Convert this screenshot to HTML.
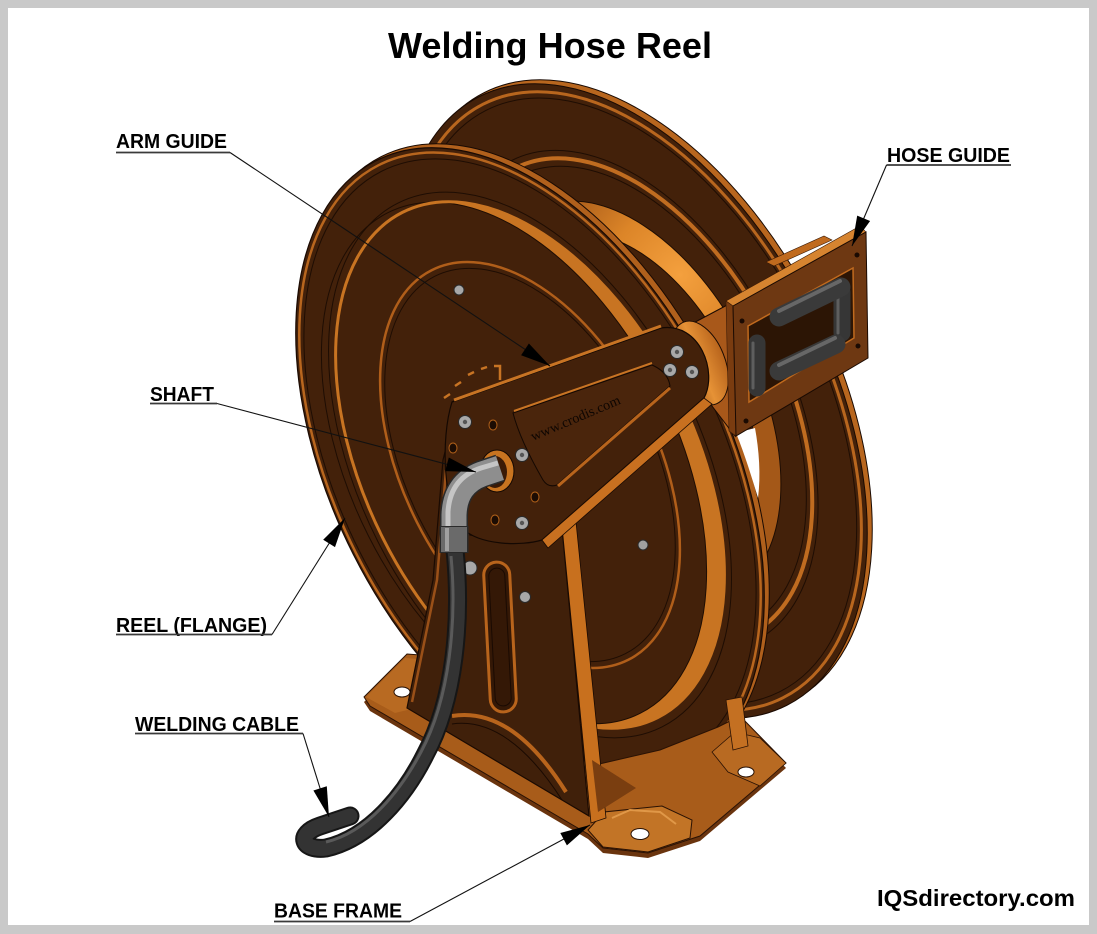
<!DOCTYPE html>
<html><head><meta charset="utf-8"><title>Welding Hose Reel</title>
<style>
html,body{margin:0;padding:0;background:#c9c9c9;}
svg{display:block;}
</style></head><body>
<svg xmlns="http://www.w3.org/2000/svg" width="1097" height="934" viewBox="0 0 1097 934">
<defs>
 <radialGradient id="lip" gradientUnits="userSpaceOnUse" cx="680" cy="275" r="140">
  <stop offset="0" stop-color="#f4a03e"/>
  <stop offset="0.5" stop-color="#dc8528"/>
  <stop offset="1" stop-color="#a45818"/>
 </radialGradient>
 <linearGradient id="collar" x1="0" y1="0" x2="1" y2="0">
  <stop offset="0" stop-color="#9a5016"/>
  <stop offset="0.5" stop-color="#e69236"/>
  <stop offset="1" stop-color="#b8641c"/>
 </linearGradient>
</defs>
<rect width="1097" height="934" fill="#c9c9c9"/>
<rect x="8" y="8" width="1081" height="917" fill="#ffffff"/>

<!-- ===== BACK FLANGE ===== -->
<g transform="translate(638 397) rotate(-26.8)"><ellipse rx="198" ry="341" fill="#b8661e" stroke="#1a0a02" stroke-width="1"/></g>
<g transform="translate(633 401) rotate(-26.8)">
 <ellipse rx="198" ry="341" fill="#43210a" stroke="#1a0a02" stroke-width="1"/>
 <ellipse rx="193" ry="332.5" fill="none" stroke="#b8661e" stroke-width="3"/>
 <ellipse rx="189" ry="325.7" fill="none" stroke="#1e0d03" stroke-width="1"/>
 <ellipse rx="156.4" ry="269.4" fill="none" stroke="#1e0d03" stroke-width="1"/>
 <ellipse rx="151.5" ry="260.9" fill="none" stroke="#c06c20" stroke-width="4"/>
 <ellipse rx="146.5" ry="252.3" fill="none" stroke="#1e0d03" stroke-width="1"/>
</g>
<!-- inner lip of back flange -->
<path fill-rule="evenodd" fill="url(#lip)" stroke="#1e0d03" stroke-width="1"
 d="M536.1 209.3 A124.7 214.8 -26.8 1 1 729.9 592.7 A124.7 214.8 -26.8 1 1 536.1 209.3 Z M551.5 239.7 A104.9 180.7 -26.8 1 1 714.5 562.3 A104.9 180.7 -26.8 1 1 551.5 239.7 Z"/>

<!-- ===== FRONT FLANGE ===== -->
<g transform="translate(535 461) rotate(-26.8)"><ellipse rx="198" ry="341" fill="#b0601c" stroke="#1a0a02" stroke-width="1"/></g>
<g transform="translate(530 465) rotate(-26.8)">
 <ellipse rx="198" ry="341" fill="#43210a" stroke="#1a0a02" stroke-width="1.2"/>
 <ellipse rx="195" ry="335.9" fill="none" stroke="#b8661e" stroke-width="2.5"/>
 <ellipse rx="191.1" ry="329.1" fill="none" stroke="#1e0d03" stroke-width="1"/>
 <ellipse rx="164.3" ry="283" fill="#c87422"/>
</g>
<g transform="translate(514 463) rotate(-26.8)"><ellipse rx="162.8" ry="280.3" fill="#43210a" stroke="#1e0d03" stroke-width="1"/></g>
<g transform="translate(530 465) rotate(-26.8)">
 <ellipse rx="170.3" ry="293.3" fill="none" stroke="#1e0d03" stroke-width="1"/>
 <ellipse rx="164.3" ry="283" fill="none" stroke="#c87422" stroke-width="3"/>
 <ellipse rx="126.7" ry="218.2" fill="none" stroke="#b05e1a" stroke-width="2.5"/>
 <ellipse rx="122.8" ry="211.4" fill="none" stroke="#1e0d03" stroke-width="1"/>
</g>
<!-- white see-through gap under hose guide -->
<path d="M736 433 L755 428 C759 450 761 475 758 498 C752 478 745 455 736 433 Z" fill="#ffffff"/>

<!-- REEL marks -->
<path d="M444 398 l6 -4 M455 386 l6 -4 M468 375 l6 -3 M481 369 l6 -2 M494 366 l6 0 l0 14" stroke="#c87424" stroke-width="2.5" fill="none"/>
<!-- flange nuts -->
<circle cx="459" cy="290" r="5" fill="#a8a8a8" stroke="#2a2a2a" stroke-width="1"/>
<circle cx="643" cy="545" r="5" fill="#a0a0a0" stroke="#2a2a2a" stroke-width="1"/>

<!-- ===== BASE ===== -->
<path d="M364 702 L407 659 L447 662 L447 705 L595 770 L660 755 L718 732 L740 721 L786 768 L700 841 L648 858 L603 853 L588 839 L370 711 Z" fill="#6a340e"/>
<path d="M364 697 L407 654 L447 657 L447 700 L595 765 L660 750 L718 727 L740 716 L786 763 L700 836 L648 853 L603 848 L588 834 L370 706 Z" fill="#a85c1a" stroke="#2a1204" stroke-width="1"/>
<path d="M366 697 L405 658 L430 660 L432 704 L395 713 Z" fill="#b86a22"/>
<ellipse cx="402" cy="692" rx="8" ry="5" fill="#ffffff" stroke="#2a1204" stroke-width="1"/>
<path d="M712 752 L735 732 L760 738 L786 763 L760 786 L728 772 Z" fill="#b86a22" stroke="#2a1204" stroke-width="0.8"/>
<ellipse cx="746" cy="772" rx="8" ry="5" fill="#ffffff" stroke="#2a1204" stroke-width="1"/>
<path d="M588 830 L604 812 L662 806 L692 820 L690 838 L648 852 L603 847 Z" fill="#c27426" stroke="#2a1204" stroke-width="1"/>
<path d="M612 818 L630 810 L660 812 L676 824" fill="none" stroke="#e09848" stroke-width="2"/>
<ellipse cx="640" cy="834" rx="9" ry="5.5" fill="#ffffff" stroke="#2a1204" stroke-width="1"/>
<!-- rear stand leg -->
<path d="M726 700 L742 697 L748 746 L733 750 Z" fill="#c47022" stroke="#2a1204" stroke-width="0.8"/>

<!-- ===== STAND ===== -->
<path d="M448 440 L443 460 L433 580 L407 708 L589 816 L562 528 L540 540 L470 535 Z" fill="#40200a" stroke="#1a0a02" stroke-width="1.2"/>
<path d="M562 526 L576 522 L606 818 L591 823 Z" fill="#c8701e" stroke="#1a0a02" stroke-width="0.8"/>
<path d="M592 760 L636 788 L598 812 Z" fill="#7a3e10"/>
<path d="M446 470 L437 580 L412 702" fill="none" stroke="#9a5018" stroke-width="2.5"/>
<rect x="487" y="562" width="26" height="150" rx="13" fill="#341806" stroke="#b8641c" stroke-width="3" transform="rotate(-3 500 637)"/>
<rect x="492" y="568" width="16" height="138" rx="8" fill="none" stroke="#1a0a02" stroke-width="1" transform="rotate(-3 500 637)"/>
<path d="M452 716 Q512 706 566 792" stroke="#b8641c" stroke-width="4" fill="none"/>
<path d="M452 724 Q508 716 562 800" stroke="#1a0a02" stroke-width="1" fill="none"/>
<circle cx="525" cy="597" r="5.5" fill="#a8a8a8" stroke="#2a2a2a" stroke-width="1"/>
<circle cx="470" cy="568" r="7" fill="#a8a8a8" stroke="#2a2a2a" stroke-width="1"/>

<!-- ===== CABLE ===== -->
<path d="M455 550 C462 620 455 700 425 755 C405 795 370 838 326 848 C302 851 296 834 320 826 L350 816" fill="none" stroke="#161616" stroke-width="19" stroke-linecap="round"/>
<path d="M455 550 C462 620 455 700 425 755 C405 795 370 838 326 848 C302 851 296 834 320 826 L350 816" fill="none" stroke="#333333" stroke-width="15" stroke-linecap="round"/>
<path d="M451 556 C457 620 450 698 421 752 C401 790 368 832 326 842" fill="none" stroke="#5a5a5a" stroke-width="3"/>

<!-- ===== ARM / HUB ===== -->
<path d="M766 262 L824 236 L832 240 L774 266 Z" fill="#c06a1e" stroke="#3a1a06" stroke-width="0.6"/>
<path d="M684 328 L731 303 L735 436 L712 406 Z" fill="#a8581a" stroke="#1a0a02" stroke-width="1"/>
<ellipse cx="700" cy="363" rx="25" ry="44" transform="rotate(-22 700 363)" fill="url(#collar)" stroke="#1a0a02" stroke-width="1"/>
<path d="M452 402 L661 328 C700 322 718 372 704 398 L542 540 C522 546 480 546 462 528 C444 508 440 440 452 402 Z" fill="#43210a" stroke="#140802" stroke-width="1.2"/>
<path d="M454 400 L661 326" stroke="#c87424" stroke-width="3"/>
<path d="M542 540 L704 398 L712 404 L548 548 Z" fill="#c87020" stroke="#1a0a02" stroke-width="0.8"/>
<path d="M513 413 L652 365 Q668 372 670 386 L557 485 Q548 488 543 480 Q520 440 513 413 Z" fill="#4a250c" stroke="#140802" stroke-width="1"/>
<path d="M514 411 L652 363" stroke="#c87424" stroke-width="2"/>
<path d="M670 388 L558 486" stroke="#b8641c" stroke-width="3"/>
<text x="533" y="441" transform="rotate(-23 533 441)" font-family="'Liberation Serif', serif" font-size="14" fill="#0e0602" textLength="96" lengthAdjust="spacingAndGlyphs">www.crodis.com</text>
<!-- hub holes -->
<ellipse cx="493" cy="425" rx="4" ry="5" fill="#1c0c03" stroke="#b0601a" stroke-width="1"/>
<ellipse cx="453" cy="448" rx="4" ry="5" fill="#1c0c03" stroke="#b0601a" stroke-width="1"/>
<ellipse cx="535" cy="497" rx="4" ry="5" fill="#1c0c03" stroke="#b0601a" stroke-width="1"/>
<ellipse cx="495" cy="520" rx="4" ry="5" fill="#1c0c03" stroke="#b0601a" stroke-width="1"/>
<!-- bolts -->
<g fill="#a9a9a9" stroke="#2a2a2a" stroke-width="1">
 <circle cx="465" cy="422" r="6.5"/><circle cx="522" cy="455" r="6.5"/><circle cx="522" cy="523" r="6.5"/>
 <circle cx="677" cy="352" r="6.5"/><circle cx="670" cy="370" r="6.5"/><circle cx="692" cy="372" r="6.5"/>
</g>
<g fill="#555555">
 <circle cx="465" cy="422" r="2.2"/><circle cx="522" cy="455" r="2.2"/><circle cx="522" cy="523" r="2.2"/>
 <circle cx="677" cy="352" r="2.2"/><circle cx="670" cy="370" r="2.2"/><circle cx="692" cy="372" r="2.2"/>
</g>
<!-- shaft bore -->
<ellipse cx="497" cy="471" rx="17" ry="21" fill="#c87420" stroke="#140802" stroke-width="1"/>
<ellipse cx="495" cy="472" rx="12" ry="16" fill="#3a1a06"/>

<!-- ===== HOSE GUIDE ===== -->
<path d="M726 301 L860 226 L866 232 L733 306 Z" fill="#d68430" stroke="#3a1a06" stroke-width="0.6"/>
<path d="M726 301 L733 306 L736 436 L729 431 Z" fill="#7a3c10" stroke="#3a1a06" stroke-width="0.6"/>
<path d="M733 306 L866 232 L868 358 L736 436 Z" fill="#6e3812" stroke="#1a0a02" stroke-width="1"/>
<path d="M748 326 L853 268 L854 338 L749 402 Z" fill="#2c1505" stroke="#c06a1e" stroke-width="1.5"/>
<g stroke-linecap="round" fill="none">
 <line x1="757" y1="343" x2="757" y2="388" stroke="#363636" stroke-width="17"/>
 <line x1="753" y1="343" x2="753" y2="388" stroke="#5e5e5e" stroke-width="3"/>
 <line x1="842" y1="292" x2="842" y2="333" stroke="#363636" stroke-width="17"/>
 <line x1="838" y1="292" x2="838" y2="333" stroke="#5e5e5e" stroke-width="3"/>
 <line x1="779" y1="317" x2="841" y2="287" stroke="#3a3a3a" stroke-width="19"/>
 <line x1="779" y1="311" x2="840" y2="281" stroke="#676767" stroke-width="4"/>
 <line x1="779" y1="371" x2="836" y2="344" stroke="#3a3a3a" stroke-width="19"/>
 <line x1="779" y1="365" x2="835" y2="338" stroke="#676767" stroke-width="4"/>
</g>
<g fill="#1a0a02">
 <circle cx="742" cy="321" r="2.5"/><circle cx="857" cy="255" r="2.5"/>
 <circle cx="858" cy="346" r="2.5"/><circle cx="746" cy="421" r="2.5"/>
</g>

<!-- ===== ELBOW ===== -->
<path d="M500 468 L482 474 Q455 484 454 515 L454 530" stroke="#2a2a2a" stroke-width="28" fill="none"/>
<path d="M500 468 L482 474 Q455 484 454 515 L454 530" stroke="#8e8e8e" stroke-width="25" fill="none"/>
<path d="M498 463 L481 468 Q450 478 448 512 L448 528" stroke="#cfcfcf" stroke-width="5" fill="none" opacity="0.85"/>
<path d="M454 526 L454 553" stroke="#2a2a2a" stroke-width="29" fill="none"/>
<path d="M454 527 L454 552" stroke="#6a6a6a" stroke-width="26" fill="none"/>
<path d="M447 528 L447 551" stroke="#a0a0a0" stroke-width="4" fill="none"/>

<!-- ===== LABELS ===== -->
<g font-family="'Liberation Sans', Arial, sans-serif" font-weight="bold" fill="#000">
 <text x="388" y="58" font-size="36" textLength="324" lengthAdjust="spacingAndGlyphs">Welding Hose Reel</text>
 <text x="116" y="148" font-size="20" textLength="111" lengthAdjust="spacingAndGlyphs">ARM GUIDE</text>
 <text x="887" y="162" font-size="20" textLength="123" lengthAdjust="spacingAndGlyphs">HOSE GUIDE</text>
 <text x="150" y="401" font-size="20" textLength="64" lengthAdjust="spacingAndGlyphs">SHAFT</text>
 <text x="116" y="632" font-size="20" textLength="151" lengthAdjust="spacingAndGlyphs">REEL (FLANGE)</text>
 <text x="135" y="731" font-size="20" textLength="164" lengthAdjust="spacingAndGlyphs">WELDING CABLE</text>
 <text x="274" y="917.5" font-size="20" textLength="128" lengthAdjust="spacingAndGlyphs">BASE FRAME</text>
 <text x="877" y="906" font-size="23.5" textLength="198" lengthAdjust="spacingAndGlyphs">IQSdirectory.com</text>
</g>
<g stroke="#3a3a3a" stroke-width="1.8">
 <line x1="116" y1="152.5" x2="230" y2="152.5"/>
 <line x1="886.5" y1="165" x2="1011" y2="165"/>
 <line x1="150" y1="403.5" x2="217" y2="403.5"/>
 <line x1="116" y1="634.5" x2="272" y2="634.5"/>
 <line x1="135" y1="733.5" x2="303" y2="733.5"/>
 <line x1="274" y1="921.5" x2="410" y2="921.5"/>
</g>
<g stroke="#111" stroke-width="1.1">
 <line x1="230" y1="152.5" x2="550" y2="366"/>
 <line x1="886.5" y1="165" x2="852" y2="246"/>
 <line x1="217" y1="403.5" x2="476" y2="472"/>
 <line x1="272" y1="634.5" x2="345" y2="518"/>
 <line x1="303" y1="733.5" x2="329" y2="817"/>
 <line x1="410" y1="921.5" x2="590" y2="825"/>
</g>
<g fill="#000">
 <polygon points="550,366 521.1,355.2 528.9,343.5"/>
 <polygon points="852,246 857.2,215.6 870.1,221.0"/>
 <polygon points="476,472 445.2,471.1 448.8,457.5"/>
 <polygon points="345,518 335.0,547.1 323.2,539.7"/>
 <polygon points="329,817 313.4,790.5 326.8,786.3"/>
 <polygon points="590,825 566.9,845.4 560.3,833.0"/>
</g>
</svg>
</body></html>
